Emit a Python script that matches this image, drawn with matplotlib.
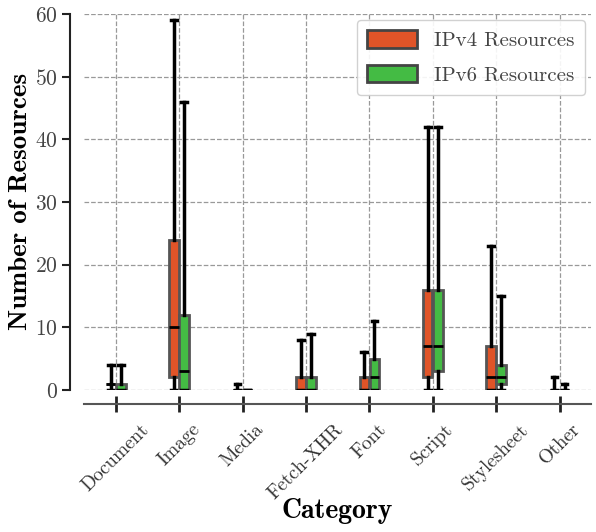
import matplotlib
matplotlib.use("Agg")
import matplotlib.pyplot as plt
from matplotlib.patches import Patch

plt.rcParams["font.family"] = ["cmr10", "DejaVu Serif"]
plt.rcParams["axes.formatter.use_mathtext"] = True

categories = ["Document", "Image", "Media", "Fetch-XHR", "Font",
              "Script", "Stylesheet", "Other"]

# Five-number summaries per category: (whisker low, q1, median, q3, whisker high)
ipv4_stats = [
    (0, 1, 1, 1, 4),
    (0, 2, 10, 24, 59),
    (0, 0, 0, 0, 1),
    (0, 0, 0, 2, 8),
    (0, 0, 0, 2, 6),
    (0, 2, 7, 16, 42),
    (0, 0, 2, 7, 23),
    (0, 0, 0, 0, 2),
]
ipv6_stats = [
    (0, 0, 0, 1, 4),
    (0, 0, 3, 12, 46),
    (0, 0, 0, 0, 0),
    (0, 0, 0, 2, 9),
    (0, 0, 2, 5, 11),
    (0, 3, 7, 16, 42),
    (0, 1, 2, 4, 15),
    (0, 0, 0, 0, 1),
]

series_names = ["IPv4 Resources", "IPv6 Resources"]
series_colors = ["#E05428", "#44BB44"]
y_ticks = [0, 10, 20, 30, 40, 50, 60]


def to_bxp(stats):
    return [dict(whislo=lo, q1=q1, med=med, q3=q3, whishi=hi, fliers=[])
            for lo, q1, med, q3, hi in stats]


fig = plt.figure(figsize=(5.96, 5.32), dpi=100)
ax = fig.add_axes([0.141, 0.267, 0.851, 0.707])

offset = 0.08
for k, (stats, color) in enumerate(zip([ipv4_stats, ipv6_stats], series_colors)):
    sign = -1 if k == 0 else 1
    pos = [i + sign * offset for i in range(len(categories))]
    ax.bxp(to_bxp(stats), positions=pos, widths=0.15, capwidths=0.09,
           patch_artist=True, showfliers=False,
           boxprops=dict(facecolor=color, edgecolor="#555555", linewidth=2),
           whiskerprops=dict(color="black", linewidth=2.5),
           capprops=dict(color="black", linewidth=2.5),
           medianprops=dict(color="black", linewidth=2),
           manage_ticks=False, zorder=3)

ax.set_xlim(-0.5, len(categories) - 0.5)
ax.set_ylim(0, 60)
ax.set_yticks(y_ticks)
ax.set_xticks(range(len(categories)), labels=categories)
ax.tick_params(axis="y", labelsize=15.5, direction="out", length=6,
               width=1.5, color="#222222", labelcolor="#444444", pad=3)
ax.tick_params(axis="x", direction="inout", length=12, width=2,
               color="#222222", labelcolor="#333333", pad=6,
               labelsize=14, labelrotation=45)
for lbl in ax.get_xticklabels():
    lbl.set_horizontalalignment("right")
    lbl.set_rotation_mode("anchor")

ax.grid(True, linestyle="--", color="#999999", linewidth=0.9)
ax.set_axisbelow(True)

for side in ["top", "right"]:
    ax.spines[side].set_visible(False)
ax.spines["left"].set_position(("outward", 10))
ax.spines["bottom"].set_position(("outward", 10))
ax.spines["left"].set_color("#222222")
ax.spines["left"].set_linewidth(1.5)
ax.spines["bottom"].set_color("#555555")
ax.spines["bottom"].set_linewidth(1.5)

ax.set_xlabel("Category", fontsize=20, fontfamily="cmb10", labelpad=-3)
ax.set_ylabel("Number of Resources", fontsize=19.5, fontfamily="cmb10",
              labelpad=2)

handles = [Patch(facecolor=c, edgecolor="#444444", linewidth=2, label=n)
           for c, n in zip(series_colors, series_names)]
leg = ax.legend(handles=handles, loc="upper right", fontsize=15,
                frameon=True, fancybox=True, framealpha=0.9,
                edgecolor="#cccccc", handlelength=2.4, handleheight=0.9,
                borderpad=0.5, labelspacing=0.7, borderaxespad=0.3,
                handletextpad=0.8)
for t in leg.get_texts():
    t.set_color("#444444")

fig.savefig("out.png", dpi=100)
